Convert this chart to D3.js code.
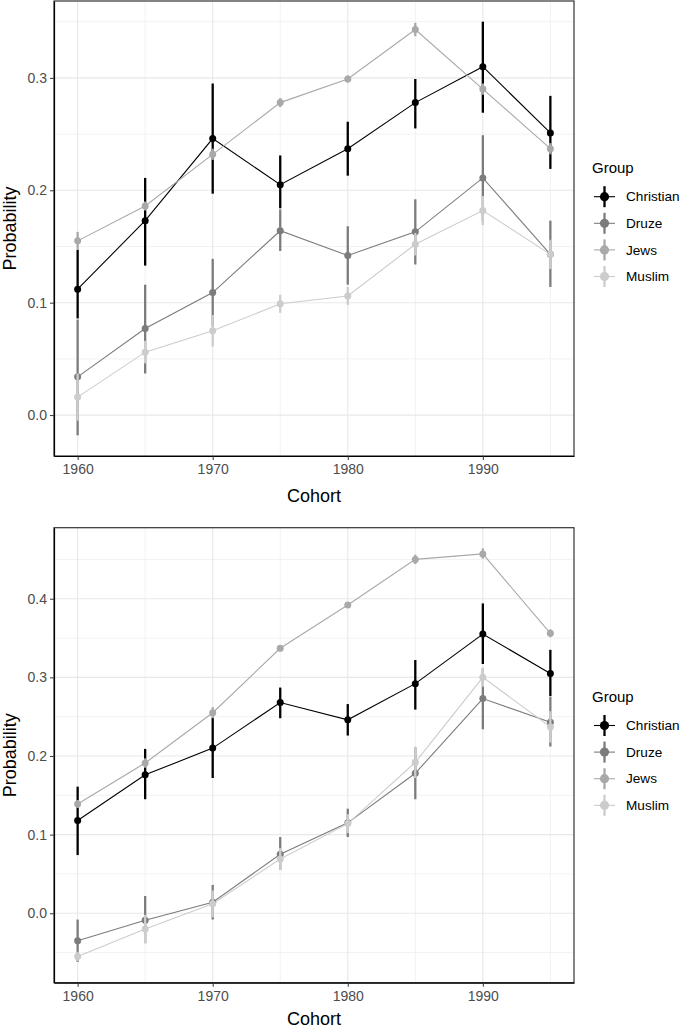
<!DOCTYPE html>
<html><head><meta charset="utf-8">
<script src="https://cdn.jsdelivr.net/npm/d3@7"></script>
<style>
html,body{margin:0;padding:0;background:#fff;}
svg{display:block;font-family:"Liberation Sans",Arial,Helvetica,sans-serif;}
</style></head>
<body>
<svg id="chart" width="685" height="1030"></svg>
<script>
// ---------- data ----------
const cohorts = [1960, 1965, 1970, 1975, 1980, 1985, 1990, 1995];
const groups = ["Christian", "Druze", "Jews", "Muslim"];
const xTicks = [1960, 1970, 1980, 1990];
const yTicksA = [0.0, 0.1, 0.2, 0.3];
const yTicksB = [0.0, 0.1, 0.2, 0.3, 0.4];

// Panel A (top)
const christianA    = [0.112, 0.173, 0.246, 0.205, 0.237, 0.278, 0.310, 0.251];
const christianA_lo = [0.086, 0.133, 0.197, 0.184, 0.213, 0.255, 0.269, 0.219];
const christianA_hi = [0.147, 0.211, 0.295, 0.231, 0.261, 0.299, 0.350, 0.284];
const druzeA    = [0.034, 0.077, 0.109, 0.164, 0.142, 0.163, 0.211, 0.143];
const druzeA_lo = [-0.018, 0.037, 0.079, 0.146, 0.116, 0.134, 0.172, 0.114];
const druzeA_hi = [0.085, 0.116, 0.139, 0.183, 0.168, 0.192, 0.249, 0.173];
const jewsA    = [0.155, 0.186, 0.232, 0.278, 0.299, 0.343, 0.290, 0.237];
const jewsA_lo = [0.147, 0.182, 0.227, 0.274, 0.296, 0.337, 0.285, 0.232];
const jewsA_hi = [0.163, 0.190, 0.237, 0.282, 0.302, 0.349, 0.295, 0.242];
const muslimA    = [0.016, 0.056, 0.075, 0.099, 0.106, 0.152, 0.182, 0.143];
const muslimA_lo = [-0.005, 0.046, 0.061, 0.091, 0.098, 0.142, 0.169, 0.130];
const muslimA_hi = [0.037, 0.066, 0.089, 0.107, 0.114, 0.162, 0.195, 0.156];

// Panel B (bottom)
const christianB    = [0.118, 0.176, 0.210, 0.268, 0.246, 0.292, 0.355, 0.305];
const christianB_lo = [0.074, 0.145, 0.172, 0.248, 0.226, 0.259, 0.317, 0.276];
const christianB_hi = [0.161, 0.209, 0.249, 0.287, 0.266, 0.322, 0.394, 0.335];
const druzeB    = [-0.035, -0.009, 0.014, 0.075, 0.115, 0.178, 0.273, 0.243];
const druzeB_lo = [-0.062, -0.038, -0.008, 0.055, 0.097, 0.145, 0.234, 0.212];
const druzeB_hi = [-0.008, 0.022, 0.036, 0.097, 0.133, 0.211, 0.312, 0.275];
const jewsB    = [0.139, 0.191, 0.255, 0.337, 0.392, 0.450, 0.457, 0.356];
const jewsB_lo = [0.134, 0.185, 0.248, 0.333, 0.389, 0.444, 0.451, 0.351];
const jewsB_hi = [0.144, 0.197, 0.262, 0.341, 0.395, 0.456, 0.464, 0.361];
const muslimB    = [-0.055, -0.020, 0.012, 0.069, 0.114, 0.192, 0.300, 0.237];
const muslimB_lo = [-0.061, -0.038, -0.005, 0.055, 0.102, 0.172, 0.288, 0.217];
const muslimB_hi = [-0.049, -0.002, 0.029, 0.083, 0.126, 0.212, 0.312, 0.257];

// ---------- build ----------
const colors = ["#000000", "#7c7c7c", "#a9a9a9", "#cccccc"];
const color = d3.scaleOrdinal().domain(groups).range(colors);

function series(vals, los, his) {
  return cohorts.map((c, i) => ({x: c, y: vals[i], lo: los[i], hi: his[i]}));
}
const panelA = [
  {g: "Christian", pts: series(christianA, christianA_lo, christianA_hi)},
  {g: "Druze", pts: series(druzeA, druzeA_lo, druzeA_hi)},
  {g: "Jews", pts: series(jewsA, jewsA_lo, jewsA_hi)},
  {g: "Muslim", pts: series(muslimA, muslimA_lo, muslimA_hi)}
];
const panelB = [
  {g: "Christian", pts: series(christianB, christianB_lo, christianB_hi)},
  {g: "Druze", pts: series(druzeB, druzeB_lo, druzeB_hi)},
  {g: "Jews", pts: series(jewsB, jewsB_lo, jewsB_hi)},
  {g: "Muslim", pts: series(muslimB, muslimB_lo, muslimB_hi)}
];

const svg = d3.select("#chart");
const L = 54, R = 574;

function expand(lo, hi) { const r = hi - lo; return [lo - 0.05 * r, hi + 0.05 * r]; }

function drawPanel(data, top, bottom, yTicks, legendTop, titleOff) {
  const g = svg.append("g");
  const xd = expand(d3.min(cohorts), d3.max(cohorts));
  const x = d3.scaleLinear().domain(xd).range([L, R]);
  const allLo = d3.min(data, s => d3.min(s.pts, p => p.lo));
  const allHi = d3.max(data, s => d3.max(s.pts, p => p.hi));
  const y = d3.scaleLinear().domain(expand(allLo, allHi)).range([bottom, top]);

  // minor grid
  const yMinor = yTicks.map(t => t + 0.05).concat([yTicks[0] - 0.05]).filter(v => y(v) > top && y(v) < bottom);
  const xMinor = cohorts.filter(c => c % 10 === 5);
  g.append("g").selectAll("line").data(yMinor).join("line")
    .attr("x1", L).attr("x2", R).attr("y1", d => y(d)).attr("y2", d => y(d))
    .attr("stroke", "#f2f2f2").attr("stroke-width", 1);
  g.append("g").selectAll("line").data(xMinor).join("line")
    .attr("y1", top).attr("y2", bottom).attr("x1", d => x(d)).attr("x2", d => x(d))
    .attr("stroke", "#f2f2f2").attr("stroke-width", 1);
  // major grid
  g.append("g").selectAll("line").data(yTicks).join("line")
    .attr("x1", L).attr("x2", R).attr("y1", d => y(d)).attr("y2", d => y(d))
    .attr("stroke", "#e8e8e8").attr("stroke-width", 1.1);
  g.append("g").selectAll("line").data(xTicks).join("line")
    .attr("y1", top).attr("y2", bottom).attr("x1", d => x(d)).attr("x2", d => x(d))
    .attr("stroke", "#e8e8e8").attr("stroke-width", 1.1);

  // lines
  const line = d3.line().x(d => x(d.x)).y(d => y(d.y));
  g.append("g").selectAll("path").data(data).join("path")
    .attr("d", d => line(d.pts)).attr("fill", "none")
    .attr("stroke", d => color(d.g)).attr("stroke-width", 1.1);

  // pointranges
  data.forEach(s => {
    const gg = g.append("g");
    gg.selectAll("line").data(s.pts).join("line")
      .attr("x1", d => x(d.x)).attr("x2", d => x(d.x))
      .attr("y1", d => y(d.lo)).attr("y2", d => y(d.hi))
      .attr("stroke", color(s.g)).attr("stroke-width", 2.3);
    gg.selectAll("circle").data(s.pts).join("circle")
      .attr("cx", d => x(d.x)).attr("cy", d => y(d.y)).attr("r", 3.5)
      .attr("fill", color(s.g));
  });

  // border
  g.append("rect").attr("x", L).attr("y", top).attr("width", R - L).attr("height", bottom - top)
    .attr("fill", "none").attr("stroke", "#333").attr("stroke-width", 1.2);
  // axes
  const yAxis = d3.axisLeft(y).tickValues(yTicks).tickFormat(d3.format(".1f")).tickSize(4).tickSizeOuter(0).tickPadding(3);
  const xAxis = d3.axisBottom(x).tickValues(xTicks).tickFormat(d3.format("d")).tickSize(4).tickSizeOuter(0).tickPadding(4);
  const ya = g.append("g").attr("transform", `translate(${L},0)`).call(yAxis);
  const xa = g.append("g").attr("transform", `translate(0,${bottom})`).call(xAxis);
  [ya, xa].forEach(a => {
    a.select(".domain").attr("stroke", "#000").attr("stroke-width", 1.2);
    a.selectAll(".tick line").attr("stroke", "#333").attr("stroke-width", 1);
    a.selectAll(".tick text").attr("fill", "#4d4d4d").attr("font-size", 14)
      .attr("font-family", "Liberation Sans, Arial, sans-serif");
  });

  // titles
  g.append("text").attr("x", (L + R) / 2).attr("y", bottom + titleOff)
    .attr("text-anchor", "middle").attr("font-size", 18).attr("fill", "#000").text("Cohort");
  g.append("text").attr("transform", `translate(16,${(top + bottom) / 2}) rotate(-90)`)
    .attr("text-anchor", "middle").attr("font-size", 18).attr("fill", "#000").text("Probability");

  // legend
  const lg = g.append("g").attr("transform", `translate(592,${legendTop})`);
  lg.append("text").attr("x", 0).attr("y", 0).attr("font-size", 15).attr("fill", "#000").text("Group");
  groups.forEach((name, i) => {
    const cy = 24 + i * 26.6;
    const k = lg.append("g");
    k.append("line").attr("x1", 2).attr("x2", 23).attr("y1", cy).attr("y2", cy)
      .attr("stroke", color(name)).attr("stroke-width", 1.1);
    k.append("line").attr("x1", 12.5).attr("x2", 12.5).attr("y1", cy - 10.5).attr("y2", cy + 10.5)
      .attr("stroke", color(name)).attr("stroke-width", 2.3);
    k.append("circle").attr("cx", 12.5).attr("cy", cy).attr("r", 4.6).attr("fill", color(name));
    k.append("text").attr("x", 34).attr("y", cy + 4.7).attr("font-size", 13.6).attr("fill", "#000").text(name);
  });
}

drawPanel(panelA, 1, 456, yTicksA, 172.7, 45.5);
drawPanel(panelB, 527.7, 982.7, yTicksB, 701.5, 42);
</script>
</body></html>
